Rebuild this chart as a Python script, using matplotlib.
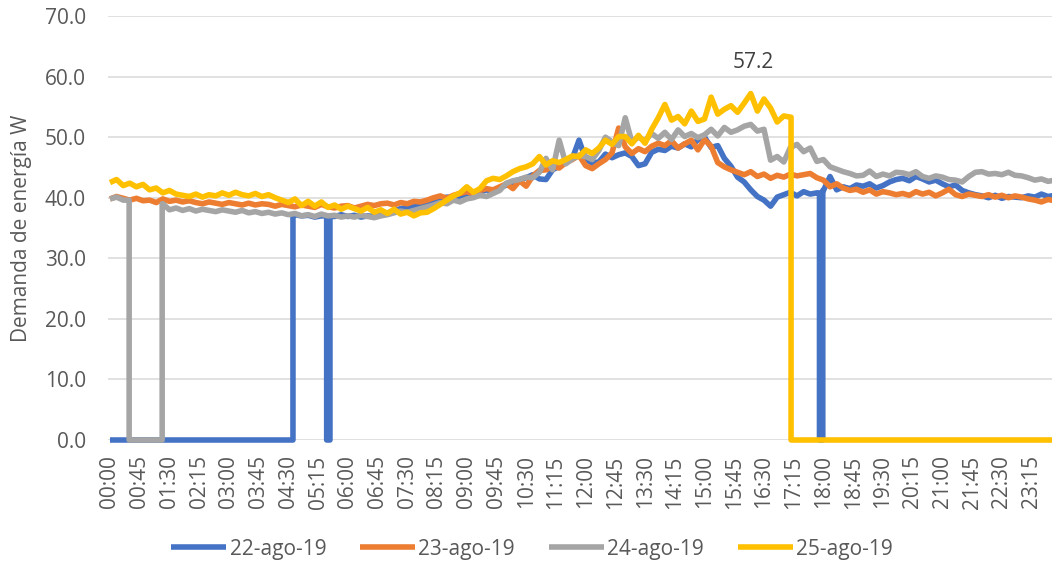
#Demanda de energia por dia, 22 a 25 de agosto 2019
#lecturas cada 10 minutos, con los cortes a cero

import numpy as np
import matplotlib.pyplot as plt

##minutos del dia (eje x)
minutos = list(range(0, 1440, 10))

##etiquetas del eje x cada 45 min
ticks_min = list(range(0, 1440, 45))
horas_eje = [f"{m//60:02d}:{m%60:02d}" for m in ticks_min]

##series (W)
d22 = [0,0,0,0,0,0,
       0,0,0,0,0,0,
       0,0,0,0,0,0,
       0,0,0,0,0,0,
       0,0,0,0,37.2,37.0,
       37.1,36.8,37.0,0,36.9,37.2,
       36.9,37.1,36.8,37.0,36.9,37.2,
       37.5,37.8,38.2,38.4,38.7,39.0,
       39.2,39.5,39.8,40.1,39.9,40.3,
       40.6,40.2,40.9,41.3,41.0,41.6,
       42.1,42.6,43.0,43.3,43.8,43.1,
       43.0,44.6,45.2,45.8,46.5,49.5,
       46.4,45.7,45.9,47.2,46.6,47.1,
       47.4,46.8,45.3,45.6,47.5,48.0,
       47.8,48.5,48.2,48.9,48.4,49.6,
       50.0,48.3,48.6,46.5,45.2,43.4,
       42.6,41.3,40.2,39.6,38.6,40.1,
       40.5,40.9,40.3,41.0,40.6,40.8,
       41.2,43.5,41.3,41.8,41.5,42.1,
       41.9,42.3,41.6,42.0,42.6,43.0,
       43.2,42.8,43.5,43.1,42.6,42.9,
       42.3,41.8,42.1,41.2,40.8,40.5,
       40.3,40.0,40.4,39.9,40.2,40.1,
       40.0,40.3,40.1,40.6,40.2,40.4]
d23 = [39.8,40.2,39.9,39.6,39.9,39.5,
       39.6,39.2,39.8,39.4,39.6,39.3,
       39.5,39.2,39.0,39.3,39.1,38.9,
       39.2,39.0,38.8,39.1,38.8,39.0,
       38.9,38.6,38.9,38.7,38.5,38.8,
       38.6,38.4,38.9,38.5,38.3,38.6,
       38.7,38.3,38.6,38.9,38.7,39.0,
       39.1,38.8,39.2,39.0,39.4,39.3,
       39.6,40.0,40.3,39.9,40.4,40.7,
       41.0,40.6,41.2,41.5,41.3,41.8,
       42.3,41.5,42.8,41.9,43.6,44.5,
       44.6,45.2,44.9,45.8,46.3,47.0,
       45.3,44.8,45.6,46.3,47.4,51.5,
       48.4,47.3,48.1,47.6,48.5,49.0,
       48.6,49.4,48.2,48.9,49.5,47.9,
       49.6,48.5,45.8,45.1,44.6,44.2,
       43.8,44.3,43.5,43.9,43.2,43.7,
       43.4,43.9,43.6,43.8,44.0,43.3,
       42.9,41.8,42.3,41.6,41.2,41.4,
       40.9,41.3,40.6,41.0,40.8,40.5,
       40.7,40.4,41.0,40.6,40.9,40.3,
       40.8,41.4,40.5,40.2,40.6,40.4,
       40.2,40.5,40.1,40.4,40.0,40.3,
       40.1,39.8,39.6,39.3,39.7,39.5]
d24 = [39.8,40.1,39.6,0,0,0,
       0,0,39.0,38.0,38.3,37.9,
       38.2,37.8,38.1,37.9,37.7,38.0,
       37.8,37.6,37.9,37.5,37.7,37.4,
       37.6,37.3,37.5,37.2,37.4,37.0,
       37.2,36.9,37.3,37.0,37.1,36.8,
       37.0,36.8,37.1,36.9,36.7,37.0,
       37.2,37.5,37.8,37.6,37.9,38.2,
       38.5,38.8,39.2,39.0,39.6,39.3,
       39.8,40.0,40.4,40.2,40.7,41.2,
       42.4,42.8,43.0,43.4,43.3,44.2,
       46.5,44.6,49.5,45.6,46.4,47.0,
       46.8,46.3,47.8,50.0,49.2,48.6,
       53.2,49.2,50.0,49.4,50.6,49.8,
       50.8,49.6,51.2,50.1,50.6,49.9,
       50.4,51.3,50.2,51.6,50.8,51.2,
       51.8,52.1,51.0,51.3,46.2,46.8,
       45.9,48.3,48.8,47.6,48.2,46.0,
       46.3,45.1,44.7,44.3,44.0,43.6,
       43.7,44.4,43.5,43.9,43.6,44.2,
       44.1,43.8,44.3,43.5,43.2,43.6,
       43.4,43.0,42.9,42.6,43.5,44.2,
       44.3,43.9,44.0,43.8,44.2,43.7,
       43.6,43.3,42.9,43.1,42.7,42.9]
d25 = [42.5,43.0,42.0,42.4,41.8,42.2,
       41.3,41.6,40.8,41.2,40.6,40.4,
       40.2,40.6,40.1,40.5,40.3,40.8,
       40.4,40.9,40.5,40.3,40.7,40.2,
       40.5,40.0,39.6,39.2,39.8,38.7,
       39.4,38.6,39.3,38.4,38.8,38.1,
       38.6,38.2,37.8,38.4,37.6,38.0,
       37.4,38.1,37.3,37.6,37.0,37.5,
       37.6,38.2,38.9,39.6,40.3,40.8,
       41.8,40.9,41.5,42.8,43.2,43.0,
       43.6,44.3,44.8,45.1,45.6,46.8,
       45.4,46.1,45.8,46.3,46.9,46.8,
       47.9,47.3,48.2,49.5,48.8,50.1,
       50.1,48.9,50.3,49.0,51.3,53.2,
       55.4,52.8,53.4,52.2,54.3,52.6,
       53.0,56.6,53.8,54.6,55.2,54.1,
       55.6,57.2,54.3,56.3,54.8,52.5,
       53.5,53.3,0,0,0,0,
       0,0,0,0,0,0,
       0,0,0,0,0,0,
       0,0,0,0,0,0,
       0,0,0,0,0,0,
       0,0,0,0,0,0,
       0,0,0,0,0,0]

##intervalos en cero (min inicio, min fin)
cortes22 = [(0, 277), (328, 333), (1074, 1079)]
cortes23 = []
cortes24 = [(29, 79)]
cortes25 = [(1031, 1440)]

nombres = ['22-ago-19', '23-ago-19', '24-ago-19', '25-ago-19']
colores = ['#4472C4', '#ED7D31', '#A5A5A5', '#FFC000']

#maximo anotado
t_max = 970
v_max = 57.2

#arma la serie con saltos verticales en los cortes
def armar(vals, cortes):
    pts = list(zip(minutos, vals))
    for a, b in cortes:
        pts = [p for p in pts if not (a <= p[0] <= b)]
        antes = [p[1] for p in pts if p[0] < a]
        despues = [p[1] for p in pts if p[0] > b]
        nuevos = []
        if antes:
            nuevos.append((a, antes[-1]))
        nuevos += [(a, 0), (b, 0)]
        if despues:
            nuevos.append((b, despues[0]))
        pts = sorted(pts + nuevos, key=lambda p: p[0])
    x = np.array([p[0] for p in pts])
    y = np.array([p[1] for p in pts])
    return x, y

plt.rcParams['font.family'] = ['Open Sans', 'DejaVu Sans']
gris_txt = '#595959'

fig = plt.figure(figsize=(10.52, 5.66), dpi=100)
ax = fig.add_axes([108/1052, 126/566, 944/1052, 424/566])

series = [d22, d23, d24, d25]
cortes = [cortes22, cortes23, cortes24, cortes25]
for vals, cc, nom, col in zip(series, cortes, nombres, colores):
    x, y = armar(vals, cc)
    ax.plot(x, y, color=col, lw=4.0, label=nom, clip_on=False,
            solid_joinstyle='round', solid_capstyle='butt', zorder=3)

ax.annotate(f'{v_max:.1f}', (t_max, v_max), textcoords='offset points',
            xytext=(2, 22), ha='center', va='center', fontsize=15, color='#404040')

ax.set_xlim(-3, 1426)
ax.set_ylim(0, 70)
ax.set_yticks(np.arange(0, 71, 10))
ax.set_yticklabels([f'{v:.1f}' for v in np.arange(0, 71, 10)])
ax.set_xticks(ticks_min)
ax.set_xticklabels(horas_eje, rotation=90, va='top', ha='center')
ax.tick_params(axis='y', length=0, pad=16, labelsize=15, labelcolor=gris_txt)
ax.tick_params(axis='x', length=0, pad=11, labelsize=15, labelcolor=gris_txt)
ax.grid(axis='y', color='#D9D9D9', lw=1.1, zorder=0)
ax.set_axisbelow(True)
for s in ax.spines.values():
    s.set_visible(False)

fig.text(22/1052, 1 - 228/566, 'Demanda de energía W', rotation=90,
         ha='center', va='center', fontsize=15, color=gris_txt)

fig.legend(loc='center', bbox_to_anchor=(532/1052, 1 - 549/566), ncol=4,
           frameon=False, fontsize=15, handlelength=2.64, handletextpad=0.15,
           columnspacing=1.63, labelcolor=gris_txt)

plt.savefig('out.png', dpi=100)
